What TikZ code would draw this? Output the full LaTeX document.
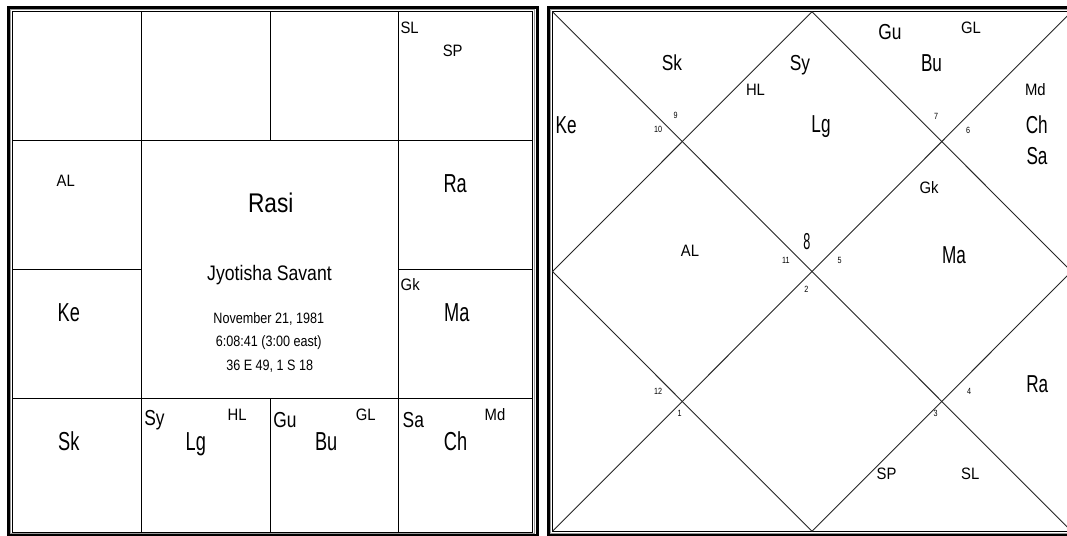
\documentclass[tikz,border=0pt]{standalone}
\usepackage{fontspec}
\setmainfont{Liberation Sans}
\newfontfamily\bigf[FakeStretch=0.70]{Liberation Sans}
\newfontfamily\midf[FakeStretch=0.80]{Liberation Sans}
\newfontfamily\smf[FakeStretch=0.90]{Liberation Sans}
\newfontfamily\titf[FakeStretch=0.84]{Liberation Sans}
\newfontfamily\tnf[FakeStretch=0.80]{Liberation Sans}
\newfontfamily\lagf[FakeStretch=0.55]{Liberation Sans}
\begin{document}
\begin{tikzpicture}[x=1pt,y=-1pt,
  every node/.style={inner sep=0pt,outer sep=0pt},
  pbig/.style={anchor=base,font=\bigf\fontsize{26}{26}\selectfont},
  prbig/.style={anchor=base,font=\bigf\fontsize{24.5}{24.5}\selectfont},
  pmid/.style={anchor=base,font=\midf\fontsize{21.7}{21.7}\selectfont},
  psm/.style={anchor=base,font=\smf\fontsize{16.5}{16.5}\selectfont},
  ptiny/.style={anchor=center,font=\tnf\fontsize{9}{9}\selectfont},
  grid/.style={line width=1pt,black},
  diag/.style={line width=0.9pt,black!85},
  thickb/.style={line width=3pt,black},
  grayb/.style={line width=1pt,black!40},
]
\useasboundingbox (0,0) rectangle (1067,535);
\clip (0,0) rectangle (1067,535);
\fill[white] (0,0) rectangle (1067,535);

% ---------- left chart (South Indian) ----------
\draw[thickb] (8.5,7.5) rectangle (537,535.5);
\draw[grayb] (10.5,9.8) rectangle (534.6,533.7);
\draw[grid] (12.5,11.7) rectangle (532.7,532.3);

\draw[grid] (12.5,140) -- (532.7,140);
\draw[grid] (12.5,398.3) -- (532.7,398.3);
\draw[grid] (12.5,269.3) -- (141.3,269.3);
\draw[grid] (398.5,269.3) -- (532.7,269.3);
\draw[grid] (141.3,11.7) -- (141.3,532.3);
\draw[grid] (398.5,11.7) -- (398.5,532.3);
\draw[grid] (270.3,11.7) -- (270.3,140);
\draw[grid] (270.3,398.3) -- (270.3,532.3);

% centre texts
\node[anchor=base,font=\titf\fontsize{27}{27}\selectfont] (rasi) at (270.8,212.7) {Rasi};
\node[anchor=base,font=\titf\fontsize{21}{21}\selectfont] (name) at (269.5,280) {Jyotisha Savant};
\node[anchor=base,font=\titf\fontsize{15}{15}\selectfont] (date) at (268.8,323.3) {November 21, 1981};
\node[anchor=base,font=\titf\fontsize{15}{15}\selectfont] (time) at (268.8,346.7) {6:08:41 (3:00 east)};
\node[anchor=base,font=\titf\fontsize{15}{15}\selectfont] (place) at (269.7,370.7) {36 E 49, 1 S 18};

% cell labels
\node[psm,anchor=base west] (lSL) at (400.5,33.3) {SL};
\node[psm] (lSP) at (452.7,56.5) {SP};
\node[psm] (lAL) at (65.7,186) {AL};
\node[pbig] (lRa) at (455.2,192.7) {Ra};
\node[pbig] (lKe) at (68.8,321.7) {Ke};
\node[psm,anchor=base west] (lGk) at (400.7,290.7) {Gk};
\node[pbig] (lMa) at (456.8,321) {Ma};
\node[pbig] (lSk) at (68.8,450) {Sk};
\node[pmid,anchor=base west] (lSy) at (144.3,425.7) {Sy};
\node[psm] (lHL) at (237.2,420.7) {HL};
\node[pbig] (lLg) at (195.8,450.5) {Lg};
\node[pmid,anchor=base west] (lGu) at (273.3,427.3) {Gu};
\node[psm] (lGL) at (365.8,420.7) {GL};
\node[pbig] (lBu) at (326.2,450.7) {Bu};
\node[pmid,anchor=base west] (lSa) at (402.7,427.3) {Sa};
\node[psm] (lMd) at (495,420) {Md};
\node[pbig] (lCh) at (455.5,450.7) {Ch};

% ---------- right chart (North Indian) ----------
\draw[thickb] (548.3,7.5) rectangle (1076,535.5);
\draw[grayb] (550.5,9.8) rectangle (1074,533.7);
\coordinate (TL) at (552.5,11.7);
\coordinate (TR) at (1071.5,11.7);
\coordinate (BR) at (1071.5,531.3);
\coordinate (BL) at (552.5,531.3);
\coordinate (T) at (812,11.7);
\coordinate (R) at (1071.5,271.5);
\coordinate (B) at (812,531.3);
\coordinate (L) at (552.5,271.5);
\draw[grid] (TL) -- (TR) -- (BR) -- (BL) -- cycle;
\draw[diag] (TL) -- (BR);
\draw[diag] (TR) -- (BL);
\draw[diag] (T) -- (R) -- (B) -- (L) -- cycle;

\node[pmid] (rSk) at (672,70.7) {Sk};
\node[pmid] (rSy) at (800,70.5) {Sy};
\node[psm] (rHL) at (755.5,95.7) {HL};
\node[prbig,anchor=base west] (rKe) at (555.7,133.3) {Ke};
\node[prbig] (rLg) at (821,132.3) {Lg};
\node[pmid] (rGu) at (890,40) {Gu};
\node[psm] (rGL) at (971,33.3) {GL};
\node[prbig] (rBu) at (931.5,71) {Bu};
\node[psm] (rMd) at (1035.3,95) {Md};
\node[prbig] (rCh) at (1036.7,133.3) {Ch};
\node[prbig] (rSa) at (1037,164) {Sa};
\node[psm] (rGk) at (929,193.3) {Gk};
\node[prbig] (rMa) at (954,263.3) {Ma};
\node[psm] (rAL) at (690,256) {AL};
\node[prbig] (rRa) at (1037.3,392.7) {Ra};
\node[psm] (rSP) at (886.5,479.3) {SP};
\node[psm] (rSL) at (970.3,479.3) {SL};

% house sign numbers
\node[ptiny] (h2) at (675.5,115) {9};
\node[ptiny] (h3) at (658,129.5) {10};
\node[ptiny] (h12) at (936,116.7) {7};
\node[ptiny] (h11) at (968,130) {6};
\node[anchor=center,font=\lagf\fontsize{23}{23}\selectfont] (h1) at (807,241.7) {8};
\node[ptiny] (h4) at (785.8,260) {11};
\node[ptiny] (h10) at (839.7,260.3) {5};
\node[ptiny] (h7) at (806.3,289.7) {2};
\node[ptiny] (h5) at (658,391.3) {12};
\node[ptiny] (h6) at (679.5,413) {1};
\node[ptiny] (h9) at (969.2,391.3) {4};
\node[ptiny] (h8) at (935.7,413.3) {3};
\end{tikzpicture}
\end{document}
